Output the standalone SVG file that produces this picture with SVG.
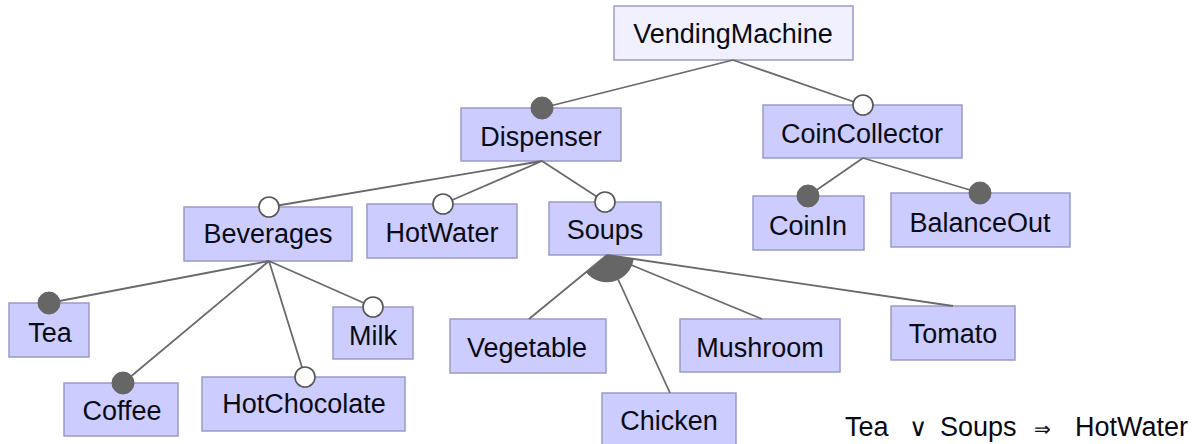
<svg xmlns="http://www.w3.org/2000/svg" width="1200" height="444" viewBox="0 0 1200 444">
<style>
.box{fill:#ccccff;stroke:#9a9ac8;stroke-width:1.5}
.root{fill:#f0f0ff;stroke:#9a9ac8;stroke-width:1.5}
.lbl{font-family:"Liberation Sans",Arial,sans-serif;font-size:27px;fill:#0a0a14;text-anchor:middle}
.ln{stroke:#6a6a6a;stroke-width:1.8;fill:none}
.man{fill:#666;stroke:#666;stroke-width:1}
.opt{fill:#fff;stroke:#555;stroke-width:1.6}
.con{font-family:"Liberation Sans",Arial,sans-serif;font-size:27px;fill:#0a0a14}
</style>
<rect width="1200" height="444" fill="#fff"/>
<g id="VendingMachine"><rect class="root" x="614" y="6" width="239" height="54"/><text class="lbl" x="733" y="43">VendingMachine</text></g>
<g id="Dispenser"><rect class="box" x="461" y="108" width="160" height="53"/><text class="lbl" x="541" y="146">Dispenser</text></g>
<g id="CoinCollector"><rect class="box" x="763" y="105" width="199" height="53"/><text class="lbl" x="862" y="143">CoinCollector</text></g>
<g id="Beverages"><rect class="box" x="184" y="207" width="168" height="54"/><text class="lbl" x="268" y="243">Beverages</text></g>
<g id="HotWater"><rect class="box" x="367" y="204" width="150" height="54"/><text class="lbl" x="442" y="242">HotWater</text></g>
<g id="Soups"><rect class="box" x="549" y="202" width="112" height="53"/><text class="lbl" x="605" y="239">Soups</text></g>
<g id="CoinIn"><rect class="box" x="753" y="196" width="111" height="54"/><text class="lbl" x="808" y="235">CoinIn</text></g>
<g id="BalanceOut"><rect class="box" x="891" y="193" width="179" height="54"/><text class="lbl" x="980" y="232">BalanceOut</text></g>
<g id="Tea"><rect class="box" x="9" y="303" width="80" height="54"/><text class="lbl" x="50" y="342">Tea</text></g>
<g id="Coffee"><rect class="box" x="64" y="383" width="114" height="53"/><text class="lbl" x="122" y="420">Coffee</text></g>
<g id="HotChocolate"><rect class="box" x="202" y="377" width="203" height="54"/><text class="lbl" x="304" y="413">HotChocolate</text></g>
<g id="Milk"><rect class="box" x="333" y="307" width="80" height="52"/><text class="lbl" x="373" y="345">Milk</text></g>
<g id="Vegetable"><rect class="box" x="450" y="319" width="156" height="54"/><text class="lbl" x="527" y="357">Vegetable</text></g>
<g id="Chicken"><rect class="box" x="602" y="393" width="134" height="54"/><text class="lbl" x="669" y="430">Chicken</text></g>
<g id="Mushroom"><rect class="box" x="680" y="319" width="160" height="53"/><text class="lbl" x="760" y="357">Mushroom</text></g>
<g id="Tomato"><rect class="box" x="891" y="306" width="124" height="54"/><text class="lbl" x="953" y="343">Tomato</text></g>
<g id="connectors">
<path class="ln" d="M733 60L542 108M733 60L863 105M542 161L269 207M542 161L443 204M542 161L605 202M863 158L808 196M863 158L980 193M269 261L49 303M269 261L123 383M269 261L305 377M269 261L373 307M607 255L529 319M607 255L670 393M607 255L762 319M607 255L953 306"/>
<path fill="#666" d="M607 255L586 272.2A27 27 0 0 0 633.7 259Z"/>
<circle class="man" cx="542" cy="108" r="11"/>
<circle class="opt" cx="863" cy="105" r="10"/>
<circle class="opt" cx="269" cy="207" r="10"/>
<circle class="opt" cx="443" cy="204" r="10"/>
<circle class="opt" cx="605" cy="202" r="10"/>
<circle class="man" cx="808" cy="196" r="11"/>
<circle class="man" cx="980" cy="193" r="11"/>
<circle class="man" cx="49" cy="303" r="11"/>
<circle class="man" cx="123" cy="383" r="11"/>
<circle class="opt" cx="305" cy="377" r="10"/>
<circle class="opt" cx="373" cy="307" r="10"/>
</g>
<text class="con" y="436"><tspan x="909" font-size="25">∨</tspan></text>
<text class="con" y="436"><tspan x="845">Tea</tspan><tspan x="940">Soups</tspan><tspan x="1034" font-size="20">⇒</tspan><tspan x="1075">HotWater</tspan></text>
</svg>
